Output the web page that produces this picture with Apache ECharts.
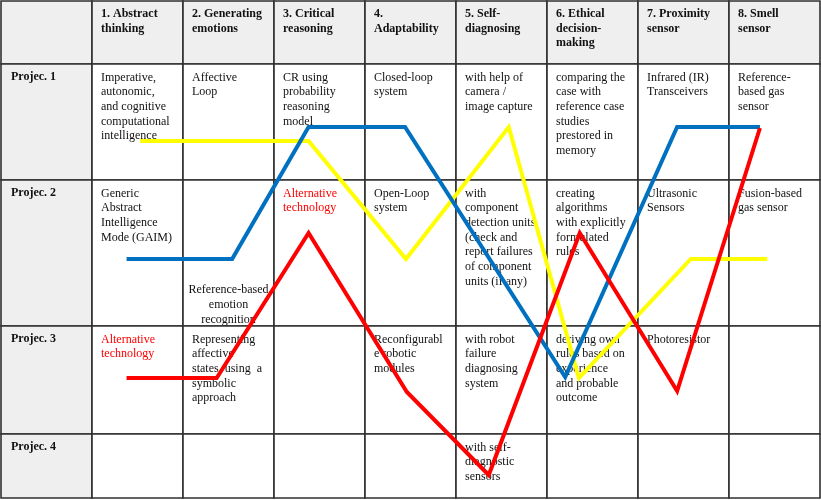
<!DOCTYPE html>
<html><head><meta charset="utf-8">
<script src="https://cdn.jsdelivr.net/npm/echarts@6/dist/echarts.min.js"></script>
<style>html,body{margin:0;padding:0;background:#fff}#c{width:821px;height:500px}</style>
</head><body><div id="c"></div>
<script>
// ---- table content ----
const headers = ["", "1. Abstract\nthinking", "2. Generating\nemotions", "3. Critical\nreasoning", "4.\nAdaptability", "5. Self-\ndiagnosing", "6. Ethical\ndecision-\nmaking", "7. Proximity\nsensor", "8. Smell\nsensor"];
const rowLabels = ["Projec. 1", "Projec. 2", "Projec. 3", "Projec. 4"];
const proj1 = ["Imperative,\nautonomic,\nand cognitive\ncomputational\nintelligence", "Affective\nLoop", "CR using\nprobability\nreasoning\nmodel", "Closed-loop\nsystem", "with help of\ncamera /\nimage capture", "comparing the\ncase with\nreference case\nstudies\nprestored in\nmemory", "Infrared (IR)\nTransceivers", "Reference-\nbased gas\nsensor"];
const proj2 = ["Generic\nAbstract\nIntelligence\nMode (GAIM)", "Reference-based\nemotion\nrecognition", "Alternative\ntechnology", "Open-Loop\nsystem", "with\ncomponent\ndetection units\n(check and\nreport failures\nof component\nunits (if any)", "creating\nalgorithms\nwith explicitly\nformulated\nrules", "Ultrasonic\nSensors", "Fusion-based\ngas sensor"];
const proj3 = ["Alternative\ntechnology", "Representing\naffective\nstates  using  a\nsymbolic\napproach", "", "Reconfigurabl\ne robotic\nmodules", "with robot\nfailure\ndiagnosing\nsystem", "deriving own\nrules based on\nexperience\nand probable\noutcome", "Photoresistor", ""];
const proj4 = ["", "", "", "", "with self-\ndiagnostic\nsensors", "", "", ""];
const alternativeCells = [[3, 2], [1, 3]];      // [column, row] marked as alternative technology
const lowCells = [[2, 2]];                       // [column, row] whose note sits at the bottom of the cell

// ---- table structure (column units across, table depth units down) ----
const columnEdges = [0, 1, 2, 3, 4, 5, 6, 7, 8, 9];
const rowEdges = [0, 63, 179, 325, 433, 497];

// ---- path lines (x in column units, y in table depth units) ----
const blueX = [1.38, 2.54, 3.38, 4.44, 6.20, 7.43, 8.34];
const blueY = [258, 258, 126, 126, 376, 126, 126];
const yellowX = [1.53, 3.38, 4.45, 5.58, 6.35, 7.58, 8.42];
const yellowY = [140, 140, 258, 126, 377, 258, 258];
const redX = [1.38, 2.37, 3.38, 4.46, 5.36, 6.36, 7.43, 8.34];
const redY = [377, 377, 232, 391, 474, 232, 390, 127];

const projRows = [proj1, proj2, proj3, proj4];
function cellText(col, row) {
  if (row === 0) return headers[col];
  if (col === 0) return rowLabels[row - 1];
  return projRows[row - 1][col - 1];
}
function inList(list, col, row) { return list.some(p => p[0] === col && p[1] === row); }

const cells = [];
for (let r = 0; r < rowEdges.length - 1; r++)
  for (let c = 0; c < columnEdges.length - 1; c++) cells.push([c, r]);

const FONT = '"Liberation Serif", "Times New Roman", serif';

function renderCell(params, api) {
  const col = api.value(0), row = api.value(1);
  const p0 = api.coord([columnEdges[col], rowEdges[row]]);
  const p1 = api.coord([columnEdges[col + 1], rowEdges[row + 1]]);
  const shaded = row === 0 || col === 0;
  const bold = row === 0 || col === 0;
  const txt = cellText(col, row);
  const children = [{
    type: 'rect',
    shape: { x: p0[0], y: p0[1], width: p1[0] - p0[0], height: p1[1] - p0[1] },
    style: { fill: shaded ? '#efefef' : '#ffffff', stroke: '#303030', lineWidth: 1.6 }
  }];
  if (txt) {
    const low = inList(lowCells, col, row);
    children.push({
      type: 'text',
      x: low ? (p0[0] + p1[0]) / 2 : p0[0] + (col === 0 ? 10 : 9),
      y: low ? p1[1] + 1 : p0[1] + 6,
      style: {
        text: txt,
        fill: inList(alternativeCells, col, row) ? '#ff0000' : '#111111',
        fontFamily: FONT,
        fontSize: 12,
        fontWeight: bold ? 'bold' : 'normal',
        lineHeight: bold ? 14.3 : 14.7,
        align: low ? 'center' : 'left',
        verticalAlign: low ? 'bottom' : 'top'
      }
    });
  }
  return { type: 'group', children };
}

function pairs(xs, ys) { return xs.map((x, i) => [x, ys[i]]); }
function pathSeries(name, xs, ys, color, z) {
  return {
    name, type: 'line', data: pairs(xs, ys), symbol: 'none', z,
    lineStyle: { color, width: 4, join: 'miter' }, silent: true
  };
}

const chart = echarts.init(document.getElementById('c'), null, { renderer: 'canvas' });
chart.setOption({
  animation: false,
  backgroundColor: '#ffffff',
  grid: { left: 1, top: 1, width: 819, height: 497 },
  xAxis: { type: 'value', min: 0, max: 9, show: false },
  yAxis: { type: 'value', min: 0, max: 497, inverse: true, show: false },
  series: [
    { type: 'custom', data: cells, renderItem: renderCell, z: 1, silent: true, clip: false },
    pathSeries('yellow', yellowX, yellowY, '#ffff00', 3),
    pathSeries('blue', blueX, blueY, '#0070c0', 4),
    pathSeries('red', redX, redY, '#ff0000', 5)
  ]
});
</script>
</body></html>
